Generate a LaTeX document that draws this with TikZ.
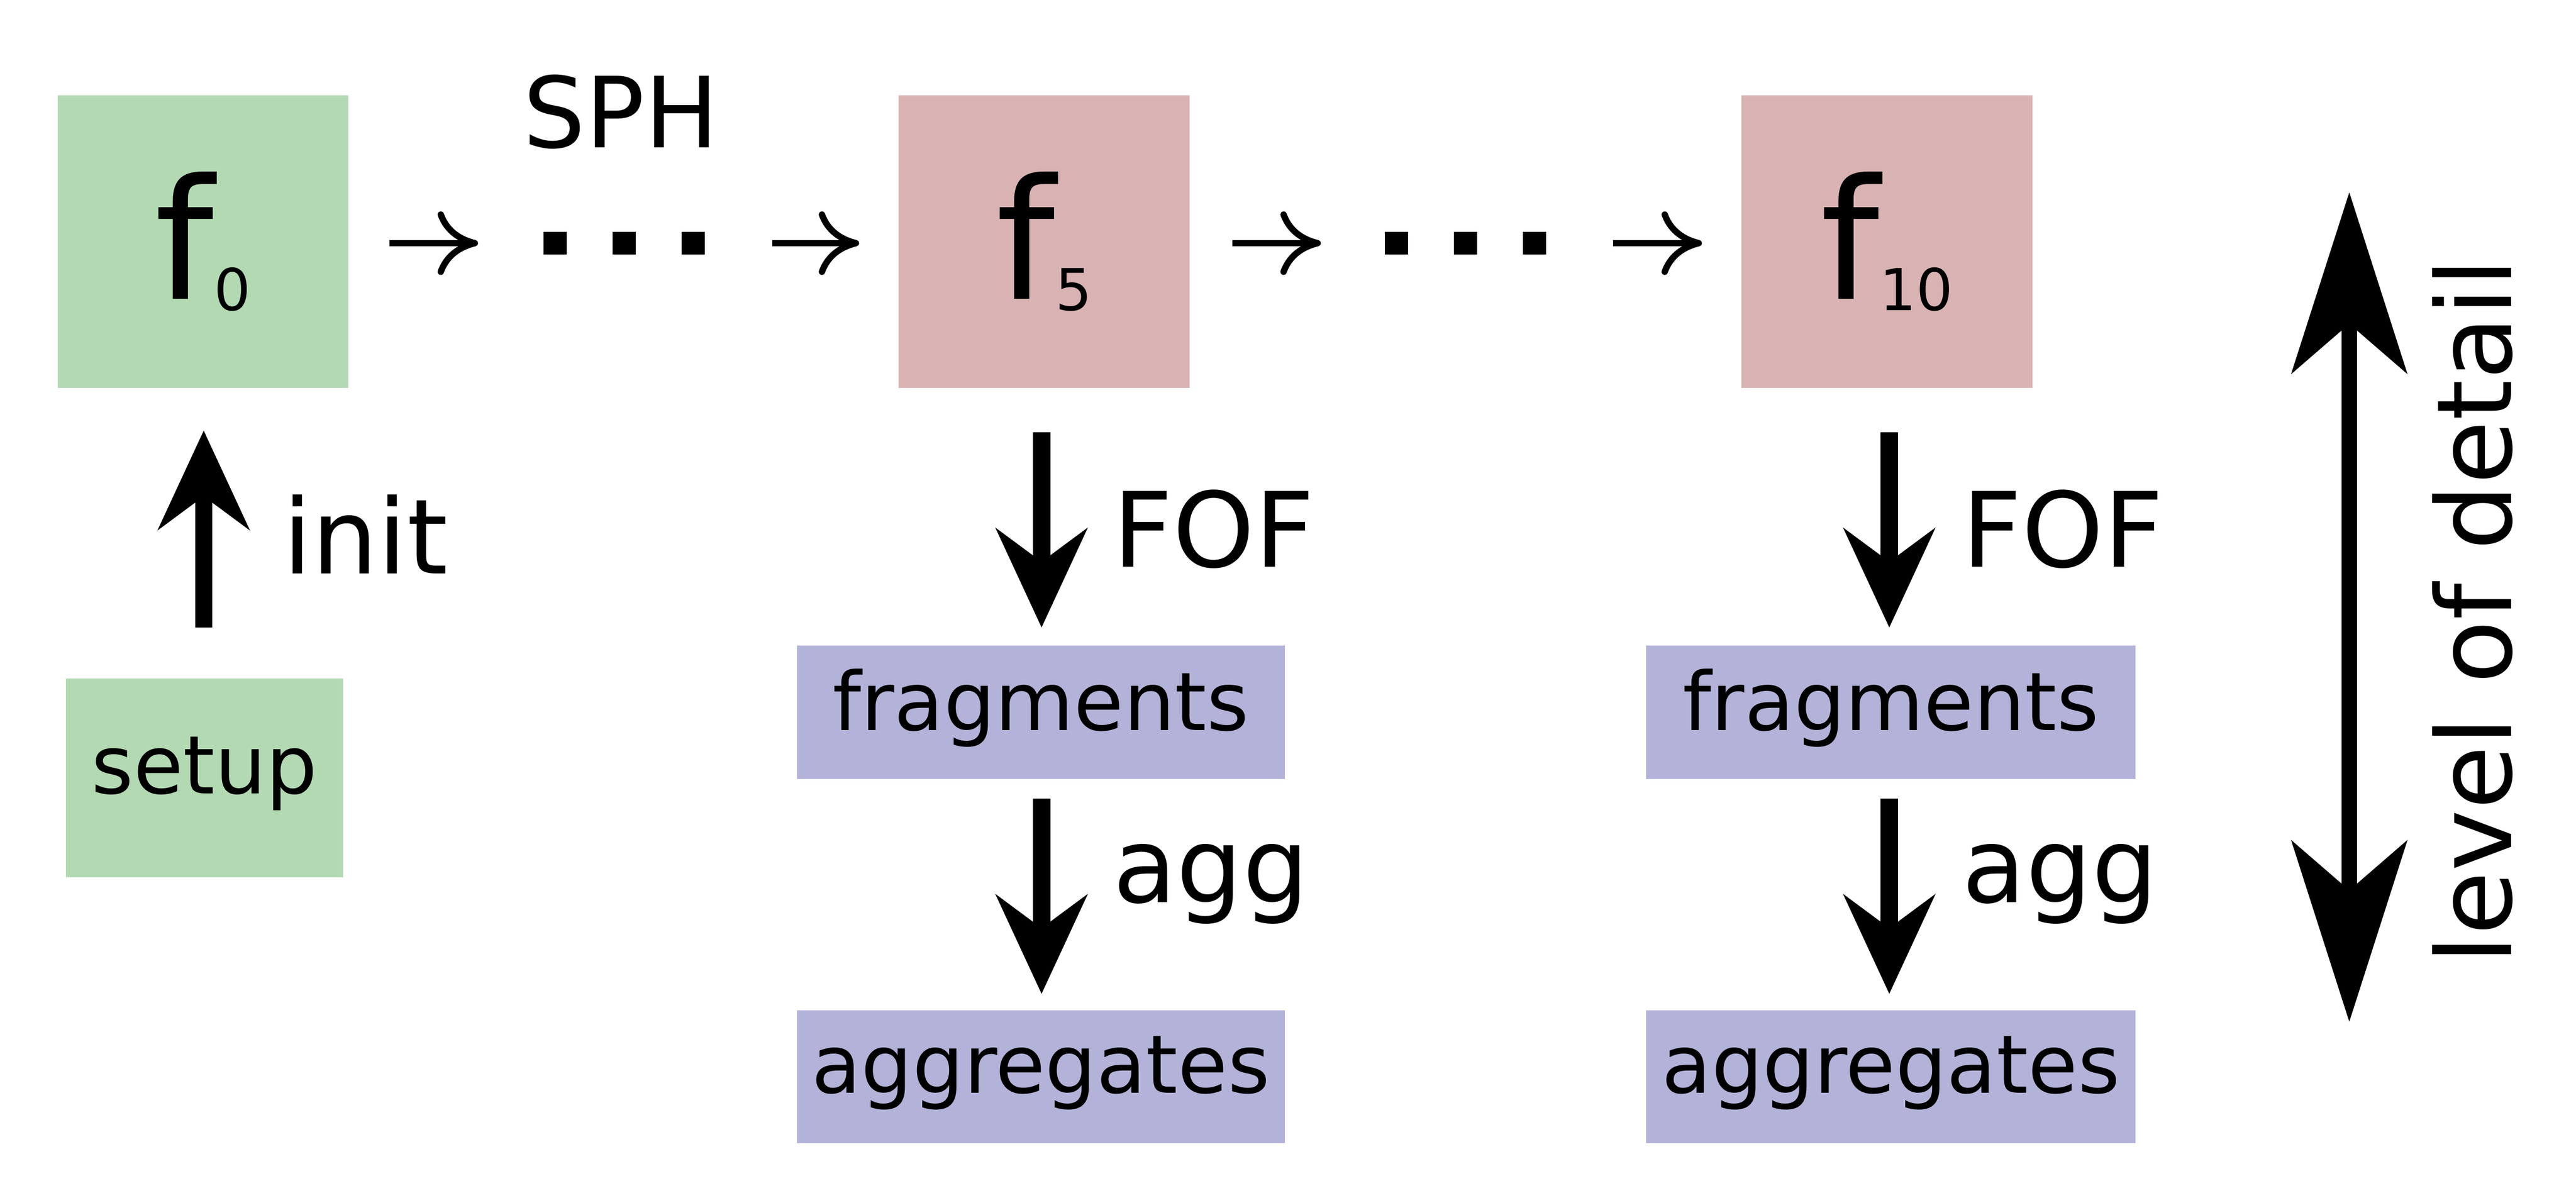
\documentclass[tikz,border=0pt]{standalone}
\usepackage{fontspec}
\setmainfont{DejaVu Sans}
\usetikzlibrary{arrows.meta}
\definecolor{gr}{HTML}{B3D9B3}
\definecolor{pk}{HTML}{D9B3B3}
\definecolor{bl}{HTML}{B3B3D9}
\begin{document}
\begin{tikzpicture}[x=0.01cm,y=-0.01cm,
  box/.style={inner sep=0pt,outer sep=0pt},
  thin/.style={line width=1.1pt,-{To[length=7pt,width=11pt]}},
  thick/.style={line width=3pt,-{Stealth[length=0.6cm,width=0.55cm,inset=0.2cm]}},
  dot/.style={fill=black},
  lab/.style={font=\fontsize{18}{20}\selectfont,anchor=west}]
\useasboundingbox (0,0) rectangle (1568,732);
% boxes
\fill[gr] (35,58) rectangle (212,236); \node[box] (f0) at (123.5,147) {\fontsize{29}{30}\selectfont f\raisebox{-2pt}{\fontsize{10}{11}\selectfont 0}};
\fill[pk] (547,58) rectangle (724,236); \node[box] (f5) at (635.5,147) {\fontsize{29}{30}\selectfont f\raisebox{-2pt}{\fontsize{10}{11}\selectfont 5}};
\fill[pk] (1060,58) rectangle (1237,236); \node[box] (f10) at (1148.5,147) {\fontsize{29}{30}\selectfont f\raisebox{-2pt}{\fontsize{10}{11}\selectfont 10}};
\fill[gr] (40,413) rectangle (209,534); \node[box] (setup) at (124.5,471) {\fontsize{14}{16}\selectfont setup};
\fill[bl] (485,393) rectangle (782,474); \node[box] (fr1) at (633.5,431) {\fontsize{14}{16}\selectfont fragments};
\fill[bl] (485,615) rectangle (782,696); \node[box] (ag1) at (633.5,653) {\fontsize{14}{16}\selectfont aggregates};
\fill[bl] (1002,393) rectangle (1300,474); \node[box] (fr2) at (1151,431) {\fontsize{14}{16}\selectfont fragments};
\fill[bl] (1002,615) rectangle (1300,696); \node[box] (ag2) at (1151,653) {\fontsize{14}{16}\selectfont aggregates};
% SPH row
\node[box] (sph) at (378,68) {\fontsize{17}{19}\selectfont SPH};
\coordinate (a1) at (237,148); \coordinate (a2) at (291,148);
\coordinate (a3) at (470,148); \coordinate (a4) at (523,148);
\coordinate (a5) at (750,148); \coordinate (a6) at (804,148);
\coordinate (a7) at (982,148); \coordinate (a8) at (1036,148);
\draw[thin] (a1) -- (a2); \draw[thin] (a3) -- (a4);
\draw[thin] (a5) -- (a6); \draw[thin] (a7) -- (a8);
\foreach \x in {338,380,422,850,892,934}{\fill (\x-7,141) rectangle (\x+7,155);}
% init
\coordinate (i1) at (124,382); \coordinate (i2) at (124,262);
\draw[thick] (i1) -- (i2);
\node[lab] (init) at (160,325) {init};
% FOF / agg
\coordinate (b1) at (634,263); \coordinate (b2) at (634,382);
\coordinate (b3) at (634,486); \coordinate (b4) at (634,605);
\coordinate (c1) at (1150,263); \coordinate (c2) at (1150,382);
\coordinate (c3) at (1150,486); \coordinate (c4) at (1150,605);
\draw[thick] (b1) -- (b2); \draw[thick] (b3) -- (b4);
\draw[thick] (c1) -- (c2); \draw[thick] (c3) -- (c4);
\node[lab] (fof1) at (665,322) {FOF};
\node[lab] (agg1) at (665,538) {agg};
\node[lab] (fof2) at (1182,322) {FOF};
\node[lab] (agg2) at (1182,538) {agg};
% level of detail
\coordinate (d1) at (1430,117); \coordinate (d2) at (1430,622);
\draw[line width=2.6pt,{Stealth[length=1.1cm,width=0.7cm,inset=0.3cm]}-{Stealth[length=1.1cm,width=0.7cm,inset=0.3cm]}] (d1) -- (d2);
\node[box,rotate=90] (lod) at (1505,372) {\fontsize{18}{20}\selectfont level of detail};
\end{tikzpicture}
\end{document}
